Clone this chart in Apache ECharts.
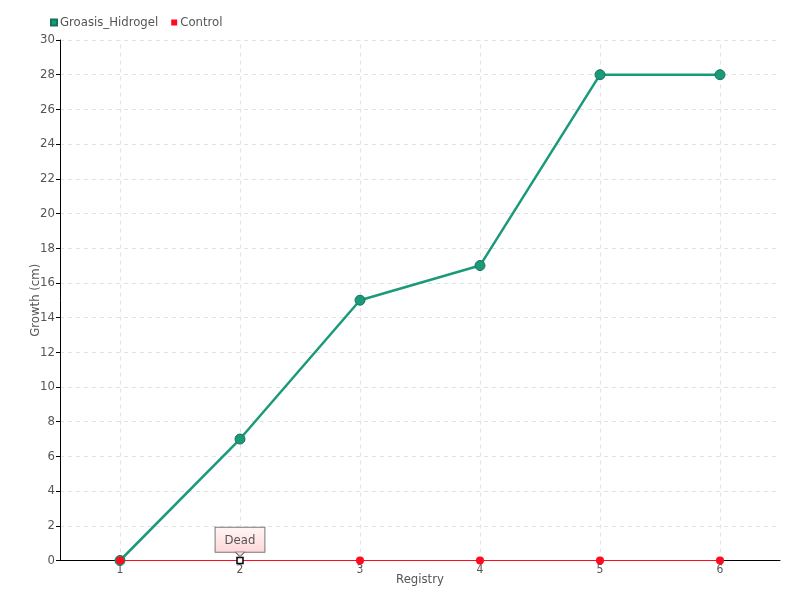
<!DOCTYPE html>
<html>
<head>
<meta charset="utf-8">
<script src="https://cdn.jsdelivr.net/npm/echarts@6/dist/echarts.min.js"></script>
<style>
  html, body { margin: 0; padding: 0; background: #fff; }
  #chart { width: 800px; height: 600px; }
</style>
</head>
<body>
<div id="chart"></div>
<script>
// categories on the x axis
const registry = ['1', '2', '3', '4', '5', '6']
// growth values (cm)
const groasisHidrogel = [0, 7, 15, 17, 28, 28]
const control = [0, 0, 0, 0, 0, 0]
// annotation on the control series
const deadIndex = 1
const deadText = 'Dead'

const fontFamily = '"DejaVu Sans Condensed", "Liberation Sans Narrow", sans-serif'
const green = '#1b9a7a'
const red = '#ff0a1e'
const gridColor = '#e2e2e2'

const myCharts = echarts.init(document.getElementById('chart'))
myCharts.setOption({
  animation: false,
  textStyle: { fontFamily: fontFamily },
  grid: { left: 60, right: 20, top: 40, bottom: 39.5 },
  legend: {
    left: 45,
    top: 11,
    itemWidth: 6,
    itemHeight: 6,
    itemGap: 13,
    icon: 'rect',
    textStyle: { color: '#555', fontSize: 13, padding: [0, 0, 0, -2] },
    data: ['Groasis_Hidrogel', 'Control']
  },
  xAxis: {
    type: 'category',
    data: registry,
    boundaryGap: true,
    name: 'Registry',
    nameLocation: 'middle',
    nameGap: 13,
    nameMoveOverlap: false,
    nameTextStyle: { color: '#555', fontSize: 13 },
    axisLine: { lineStyle: { color: '#000', width: 1 } },
    axisTick: { alignWithLabel: true, length: 4, lineStyle: { color: '#555' } },
    axisLabel: { color: '#555', fontSize: 12, margin: 3 },
    splitLine: { show: false }
  },
  yAxis: {
    type: 'value',
    min: 0,
    max: 30,
    interval: 2,
    name: 'Growth (cm)',
    nameLocation: 'middle',
    nameGap: 18,
    nameMoveOverlap: false,
    nameTextStyle: { color: '#555', fontSize: 13 },
    axisLine: { show: true, lineStyle: { color: '#000', width: 1 } },
    axisTick: { show: true, length: 4, lineStyle: { color: '#000' } },
    axisLabel: { color: '#555', fontSize: 13, margin: 5 },
    splitLine: { lineStyle: { color: gridColor, type: [4, 4] } }
  },
  series: [
    {
      name: 'Groasis_Hidrogel',
      type: 'line',
      data: groasisHidrogel,
      color: green,
      symbol: 'circle',
      symbolSize: 10,
      lineStyle: { width: 2.5, color: green },
      itemStyle: { color: green, borderColor: '#14735b', borderWidth: 1 },
      // vertical grid lines at each category
      markLine: {
        silent: true,
        symbol: ['none', 'none'],
        label: { show: false },
        lineStyle: { color: gridColor, type: [4, 4], width: 1 },
        z: 0,
        data: registry.map(function (c) { return { xAxis: c } })
      },
      z: 2
    },
    {
      name: 'Control',
      type: 'line',
      data: control.map(function (v, i) {
        if (i !== deadIndex) return v
        return {
          value: v,
          symbol: 'rect',
          symbolSize: 6,
          itemStyle: { color: '#fff', borderColor: '#000', borderWidth: 1.5 },
          label: {
            show: true,
            position: 'top',
            distance: 5,
            formatter: deadText,
            color: '#555',
            fontSize: 13,
            padding: [6, 9, 5, 9],
            borderColor: '#777',
            borderWidth: 1,
            backgroundColor: {
              type: 'linear', x: 0, y: 0, x2: 0, y2: 1,
              colorStops: [{ offset: 0, color: '#fff6f6' }, { offset: 1, color: '#ffd6d6' }]
            }
          }
        }
      }),
      // little pointer under the "Dead" box
      markPoint: {
        silent: true,
        symbol: 'triangle',
        symbolRotate: 180,
        symbolSize: [9, 5],
        symbolOffset: [0, -6],
        label: { show: false },
        itemStyle: { color: '#ffd6d6', borderColor: '#777', borderWidth: 1 },
        data: [{ coord: [deadIndex, control[deadIndex]] }]
      },
      color: red,
      symbol: 'circle',
      symbolSize: 8,
      lineStyle: { width: 1, color: red },
      itemStyle: { color: red },
      z: 3
    }
  ]
})
window.addEventListener('resize', function () {
  myCharts.resize()
})
</script>
</body>
</html>
